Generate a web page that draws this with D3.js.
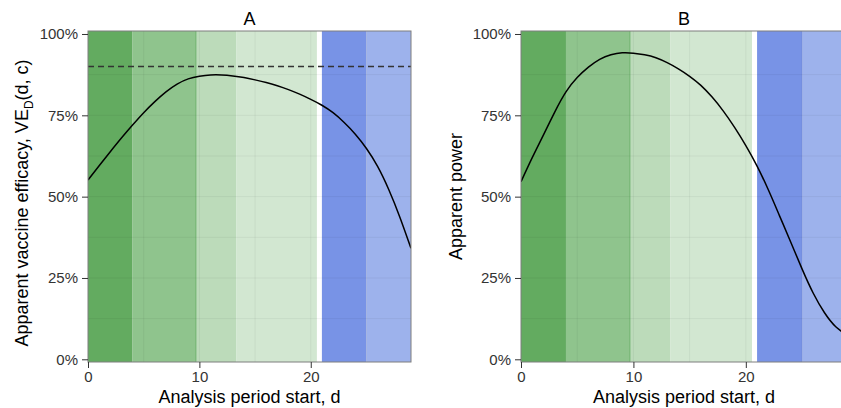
<!DOCTYPE html>
<html>
<head>
<meta charset="utf-8">
<script src="https://cdn.jsdelivr.net/npm/d3@7"></script>
<style>
  body { margin: 0; background: #fff; }
  svg { display: block; }
  svg text { font-family: "Liberation Sans", Arial, sans-serif; }
</style>
</head>
<body>
<svg id="chart" width="841" height="408"></svg>
<script>
// Analysis period start d (days)
const days = d3.range(0, 30);

// Panel A: apparent vaccine efficacy VE_D(d, c)
const efficacy = [0.551, 0.595, 0.638, 0.680, 0.720, 0.758, 0.792, 0.822, 0.846, 0.862,
                  0.870, 0.874, 0.874, 0.871, 0.866, 0.859, 0.851, 0.841, 0.829, 0.815,
                  0.799, 0.781, 0.758, 0.728, 0.692, 0.648, 0.593, 0.522, 0.437, 0.341];

// Panel B: apparent power
const power = [0.546, 0.620, 0.690, 0.760, 0.822, 0.866, 0.898, 0.922, 0.936, 0.942,
               0.941, 0.936, 0.927, 0.912, 0.893, 0.870, 0.842, 0.806, 0.763, 0.713,
               0.657, 0.594, 0.521, 0.441, 0.360, 0.278, 0.203, 0.143, 0.100, 0.075];

// True efficacy reference level
const trueEfficacy = 0.90;

// Shaded periods [start, end]
const bandStarts = [0, 4, 9.7, 13.3, 21, 25];
const bandEnds   = [4, 9.7, 13.3, 20.55, 25, 29];
const bandColors = ["#63ab60", "#8fc48d", "#bcdbba", "#d2e7d1", "#7893e6", "#9db2ec"];

const xTicks = [0, 10, 20];
const yTicks = [0, 0.25, 0.5, 0.75, 1];
const xGrid = [5, 10, 15, 20, 25];
const yGrid = [0.125, 0.25, 0.375, 0.5, 0.625, 0.75, 0.875];

const svg = d3.select("#chart");

const panels = [
  { title: "A", values: efficacy, left: 88, right: 411, ref: trueEfficacy, yLabel: "efficacy", labelX: 28, labelY: 203 },
  { title: "B", values: power, left: 521, right: 847, ref: null, yLabel: "power", labelX: 462, labelY: 196.5 }
];

const plotTop = 31, plotBottom = 362;
const FONT = "Liberation Sans, Arial, sans-serif";

panels.forEach((p, pi) => {
  const x = d3.scaleLinear().domain([0, 29]).range([p.left, p.right]);
  const y = d3.scaleLinear().domain([-0.0083, 1.0092]).range([plotBottom, plotTop]);

  const g = svg.append("g");
  const clipId = "clip" + pi;
  svg.append("clipPath").attr("id", clipId)
    .append("rect").attr("x", p.left).attr("y", plotTop)
    .attr("width", p.right - p.left).attr("height", plotBottom - plotTop);

  const plot = g.append("g").attr("clip-path", `url(#${clipId})`);

  // Background
  plot.append("rect").attr("x", p.left).attr("y", plotTop)
    .attr("width", p.right - p.left).attr("height", plotBottom - plotTop).attr("fill", "#fff");

  // Shaded periods
  plot.selectAll("rect.band").data(bandStarts).join("rect")
    .attr("class", "band")
    .attr("x", (d) => x(d))
    .attr("width", (d, i) => x(bandEnds[i]) - x(d))
    .attr("y", plotTop).attr("height", plotBottom - plotTop)
    .attr("fill", (d, i) => bandColors[i]);

  // Faint grid lines showing through the shading
  plot.selectAll("line.gx").data(xGrid).join("line")
    .attr("class", "gx")
    .attr("x1", d => x(d)).attr("x2", d => x(d))
    .attr("y1", plotTop).attr("y2", plotBottom)
    .attr("stroke", "rgba(0,0,0,0.05)").attr("stroke-width", 1);
  plot.selectAll("line.gy").data(yGrid).join("line")
    .attr("class", "gy")
    .attr("y1", d => y(d)).attr("y2", d => y(d))
    .attr("x1", p.left).attr("x2", p.right)
    .attr("stroke", "rgba(0,0,0,0.05)").attr("stroke-width", 1);

  // Edge of the second green period
  plot.append("line")
    .attr("x1", x(bandEnds[1])).attr("x2", x(bandEnds[1]))
    .attr("y1", plotTop).attr("y2", plotBottom)
    .attr("stroke", "rgba(60,150,60,0.45)").attr("stroke-width", 1);

  // Reference line
  if (p.ref !== null) {
    plot.append("line")
      .attr("x1", p.left).attr("x2", p.right)
      .attr("y1", y(p.ref)).attr("y2", y(p.ref))
      .attr("stroke", "#333").attr("stroke-width", 1.3)
      .attr("stroke-dasharray", "6,4");
  }

  // Curve
  const line = d3.line()
    .x((d, i) => x(days[i]))
    .y(d => y(d))
    .curve(d3.curveNatural);
  plot.append("path").datum(p.values)
    .attr("d", line)
    .attr("fill", "none")
    .attr("stroke", "#000")
    .attr("stroke-width", 1.5);

  // Panel border
  g.append("rect").attr("x", p.left).attr("y", plotTop)
    .attr("width", p.right - p.left).attr("height", plotBottom - plotTop)
    .attr("fill", "none").attr("stroke", "#7f7f7f").attr("stroke-width", 1);

  // Axes
  const xAxis = d3.axisBottom(x).tickValues(xTicks).tickSize(6).tickPadding(3);
  const yAxis = d3.axisLeft(y).tickValues(yTicks).tickSize(6).tickPadding(4)
    .tickFormat(d3.format(".0%"));

  const gx = g.append("g").attr("transform", `translate(0,${plotBottom})`).call(xAxis);
  const gy = g.append("g").attr("transform", `translate(${p.left},0)`).call(yAxis);
  [gx, gy].forEach(a => {
    a.attr("font-family", FONT).attr("font-size", 15);
    a.select(".domain").remove();
    a.selectAll(".tick line").attr("stroke", "#333");
    a.selectAll(".tick text").attr("fill", "#333");
  });

  // Title
  g.append("text").attr("x", (p.left + p.right) / 2).attr("y", 25)
    .attr("text-anchor", "middle").attr("font-size", 18).attr("fill", "#000")
    .text(p.title);

  // X label
  g.append("text").attr("x", (p.left + p.right) / 2).attr("y", 403)
    .attr("text-anchor", "middle").attr("font-size", 18).attr("fill", "#000")
    .text("Analysis period start, d");

  // Y label
  const yl = g.append("text")
    .attr("transform", `translate(${p.labelX},${p.labelY}) rotate(-90)`)
    .attr("text-anchor", "middle").attr("font-size", 18).attr("fill", "#000");
  if (p.yLabel === "efficacy") {
    yl.append("tspan").text("Apparent vaccine efficacy,  VE");
    yl.append("tspan").attr("dy", 5).attr("font-size", 12).text("D");
    yl.append("tspan").attr("dy", -5).text("(d, c)");
  } else {
    yl.text("Apparent power");
  }
});
</script>
</body>
</html>
